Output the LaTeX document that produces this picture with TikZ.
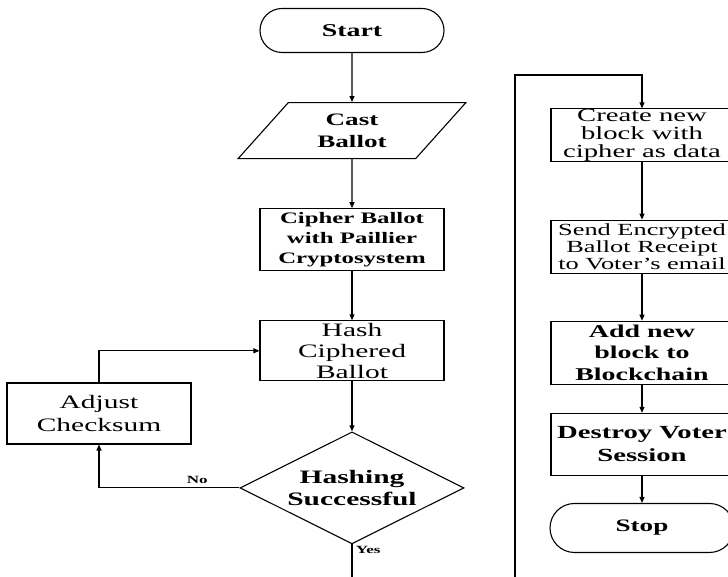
\documentclass[tikz,border=0pt]{standalone}
\usepackage{fontspec}
\setmainfont{Liberation Serif}[FakeStretch=1.55]
\usetikzlibrary{shapes.geometric, arrows.meta, positioning}
\newcommand{\fsz}[2]{\fontsize{#1}{#2}\selectfont}

\begin{document}
\begin{tikzpicture}[
  x=1pt, y=1pt,
  line width=1.1pt,
  node distance=49pt,
  term/.style={draw, rounded corners=#1, minimum width=184pt, minimum height=2*#1,
               inner sep=0pt, align=center, font=\fsz{18}{21}\bfseries},
  io/.style={draw, trapezium, trapezium left angle=51, trapezium right angle=129,
             trapezium stretches=true, minimum width=228pt, minimum height=56pt,
             inner sep=0pt, align=center, font=#1},
  block/.style={draw, minimum width=184pt, minimum height=62pt, inner sep=0pt,
                align=center, font=#1},
  rblock/.style={block=#1, minimum width=182pt},
  decision/.style={draw, diamond, aspect=2, inner sep=0pt, minimum width=224pt,
                   minimum height=112pt, align=center, font=#1},
  arr/.style={-{Triangle[length=6pt, width=5pt]}},
  tag/.style={font=\fsz{11}{13}\bfseries},
]
\useasboundingbox (0,0) rectangle (728,577);

% ─── LEFT COLUMN ──────────────────────────────────────────────────────────────
\node[term=22pt] (start) at (352,546.5) {Start};
\node[io=\fsz{17.5}{22}\bfseries, below=of start] (cast) {Cast\\Ballot};
\node[block=\fsz{16}{20}\bfseries, below=of cast] (cipher) {Cipher Ballot\\with Paillier\\Cryptosystem};
\node[block=\fsz{19}{21}, minimum height=60pt, below=of cipher] (hash) {Hash\\Ciphered\\Ballot};
\node[decision=\fsz{19}{22}\bfseries, below=50pt of hash] (decide) {Hashing\\Successful};
\node[block=\fsz{19}{23}, minimum height=61pt] (adjust) at (99,163.5) {Adjust\\Checksum};

\draw[arr] (start)  -- (cast);
\draw[arr] (cast)   -- (cipher);
\draw[arr] (cipher) -- (hash);
\draw[arr] (hash)   -- (decide);
\draw[arr] (decide.west) -| node[tag, above, pos=0.15] {No} (adjust.south);
\draw[arr] (adjust.north) |- (hash.west);

\coordinate (yesend) at (352,0);
\draw (decide.south) -- node[tag, right, pos=0.16] {Yes} (yesend);

% ─── RIGHT COLUMN ─────────────────────────────────────────────────────────────
\node[rblock=\fsz{18.5}{18}, minimum height=52pt] (create) at (642,442) {Create new\\block with\\cipher as data};
\node[rblock=\fsz{17}{17}, minimum height=53pt, below=58pt of create] (send) {Send Encrypted\\Ballot Receipt\\to Voter's email};
\node[rblock=\fsz{18}{21.5}\bfseries, minimum height=63pt, below=47pt of send] (addblk) {Add new\\block to\\Blockchain};
\node[rblock=\fsz{18.5}{23}\bfseries, minimum height=62pt, below=28pt of addblk] (destroy) {Destroy Voter\\Session};
\node[term=24.5pt, font=\fsz{17.5}{21}\bfseries, below=27pt of destroy] (stop) {Stop};

\coordinate (loopfoot) at (515,0);
\coordinate (looptop)  at (515,502);
\draw[arr] (loopfoot) -- (looptop) -| (create.north);

\draw[arr] (create)  -- (send);
\draw[arr] (send)    -- (addblk);
\draw[arr] (addblk)  -- (destroy);
\draw[arr] (destroy) -- (stop);

\end{tikzpicture}
\end{document}
